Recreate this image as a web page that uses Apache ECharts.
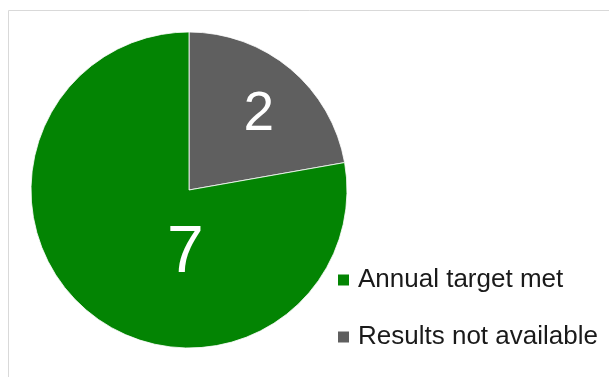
<!DOCTYPE html>
<html>
<head>
<meta charset="utf-8">
<script src="https://cdn.jsdelivr.net/npm/echarts@6/dist/echarts.min.js"></script>
<style>
  html, body { margin: 0; padding: 0; background: #fff; }
  #chart { width: 609px; height: 377px; }
</style>
</head>
<body>
<div id="chart"></div>
<script>
// Status counts shown in the pie
const categories = ['Results not available', 'Annual target met'];
const counts = [2, 7];
const colors = ['#5f5f5f', '#038403'];
const legendOrder = ['Annual target met', 'Results not available'];
// Hand-placed value labels, nudged from the default inside position
const labelOffsets = [[17, -12], [49, 1]];
const labelSizes = [55, 66];

const chart = echarts.init(document.getElementById('chart'), null, { renderer: 'canvas' });

chart.setOption({
  animation: false,
  textStyle: { fontFamily: 'Liberation Sans, Arial, sans-serif' },
  graphic: [{
    type: 'rect',
    shape: { x: 8.5, y: 10.5, width: 800, height: 600 },
    style: { fill: 'none', stroke: '#d9d9d9', lineWidth: 1 },
    silent: true,
    z: -1
  }],
  legend: {
    orient: 'vertical',
    left: 331,
    top: 262,
    data: legendOrder,
    icon: 'rect',
    itemWidth: 13,
    itemHeight: 13,
    itemGap: 31,
    selectedMode: false,
    textStyle: {
      fontSize: 26,
      color: '#1a1a1a',
      padding: [0, 0, 0, 3]
    }
  },
  series: [{
    type: 'pie',
    center: [189, 190],
    radius: 158,
    startAngle: 90,
    clockwise: true,
    avoidLabelOverlap: false,
    itemStyle: { borderColor: '#ffffff', borderWidth: 0.8 },
    labelLine: { show: false },
    emphasis: { disabled: true },
    data: categories.map((name, i) => ({
      name: name,
      value: counts[i],
      itemStyle: { color: colors[i] },
      label: {
        show: true,
        position: 'inside',
        formatter: '{c}',
        color: '#ffffff',
        fontSize: labelSizes[i],
        offset: labelOffsets[i]
      }
    }))
  }]
});
</script>
</body>
</html>
